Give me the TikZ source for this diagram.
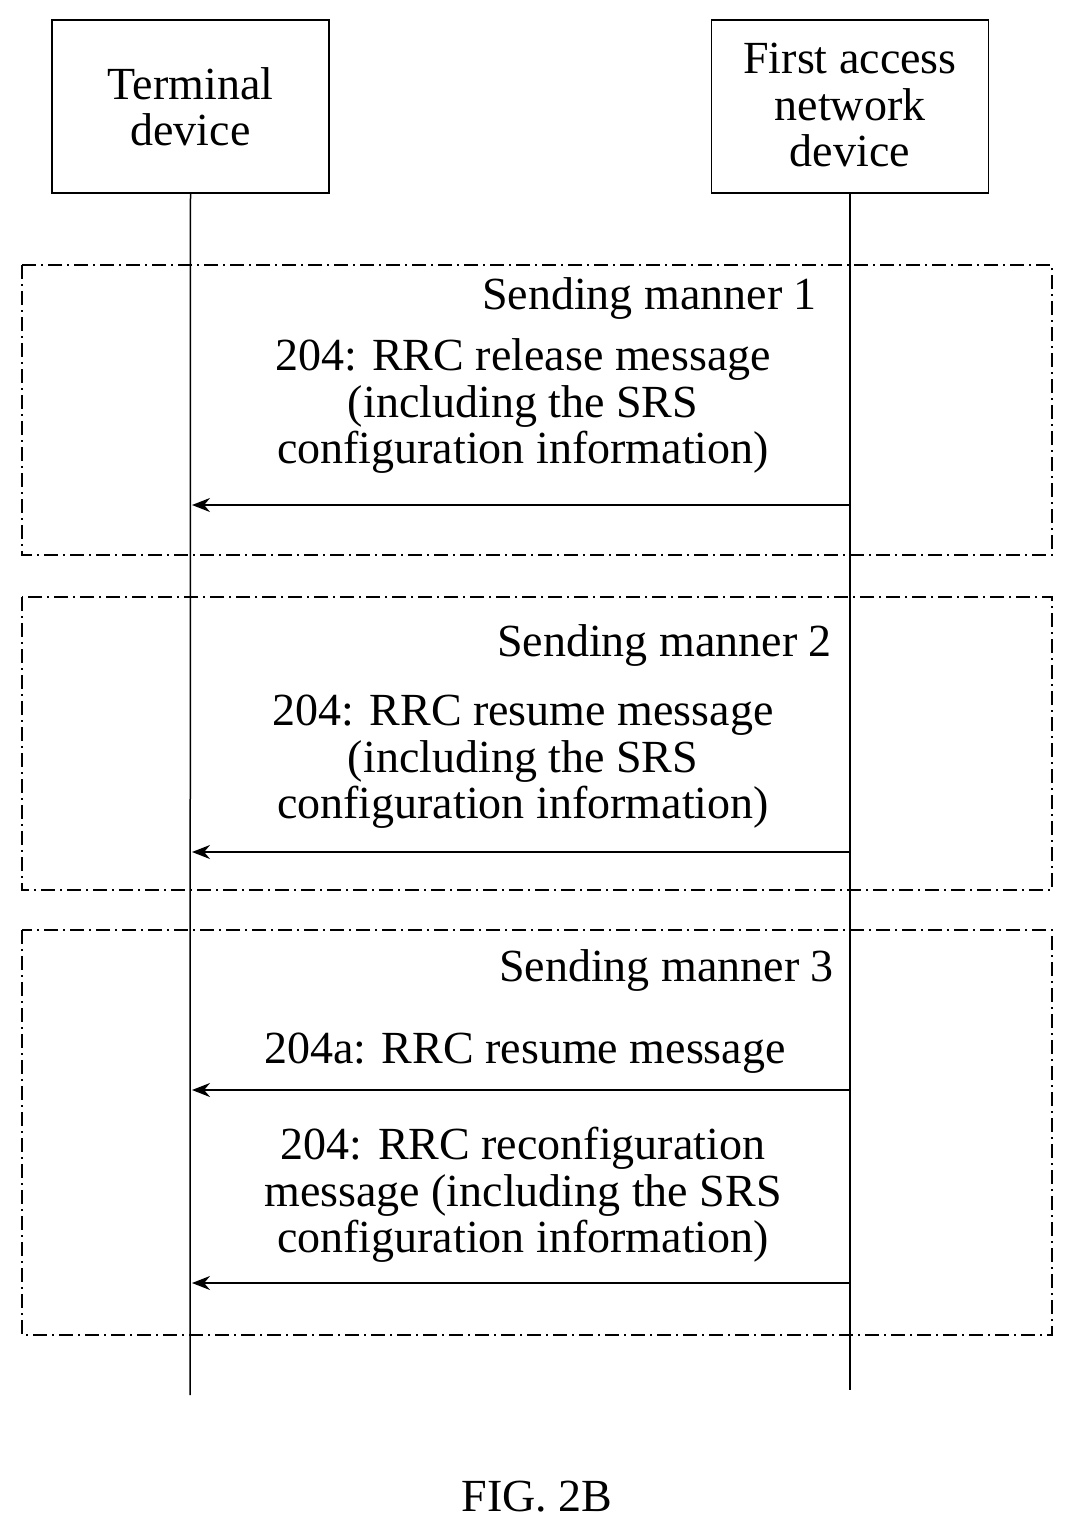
\documentclass[tikz,border=0pt]{standalone}
\usepackage{fontspec}
\setmainfont{Liberation Serif}
\usetikzlibrary{arrows.meta}
\begin{document}
\begin{tikzpicture}[x=1pt,y=-1pt,
  txt/.style={font=\fontsize{46}{46.5}\selectfont, align=center, inner sep=0pt},
  ent/.style={draw, line width=1.5pt, minimum width=277pt, minimum height=173pt, inner sep=0pt},
  grp/.style={draw, line width=1.5pt, dash pattern=on 14pt off 5pt on 2pt off 5pt},
  life/.style={line width=1.5pt},
  msg/.style={line width=1.5pt, -{Stealth[length=18pt,width=14pt]}}]
\useasboundingbox (0,0) rectangle (1074,1532);
\node[ent] (t) at (190.5,106.5) {};
\node[txt] (tt) at (190.5,107) {Terminal\\device};
\node[ent] (f) at (850,106.5) {};
\node[txt] (ft) at (850,105) {First access\\network\\device};
\coordinate (tend) at (190,1395);
\coordinate (fend) at (850,1390);
\draw[life] (t.south) -- (tend);
\draw[life] (f.south) -- (fend);
\draw[grp] (22,265) rectangle (1052,555);
\draw[grp] (22,597) rectangle (1052,890);
\draw[grp] (22,930) rectangle (1052,1335);
\node[txt, anchor=east] (s1) at (817,298) {Sending manner 1};
\node[txt] (m1) at (523,406) {204: RRC release message\\(including the SRS\\configuration information)};
\coordinate (a1f) at (850,505); \coordinate (a1t) at (192,505);
\draw[msg] (a1f) -- (a1t);
\node[txt, anchor=east] (s2) at (832,645) {Sending manner 2};
\node[txt] (m2) at (523,762) {204: RRC resume message\\(including the SRS\\configuration information)};
\coordinate (a2f) at (850,852); \coordinate (a2t) at (192,852);
\draw[msg] (a2f) -- (a2t);
\node[txt, anchor=east] (s3) at (834,970) {Sending manner 3};
\node[txt] (m3a) at (525,1053) {204a: RRC resume message};
\coordinate (a3f) at (850,1090); \coordinate (a3t) at (192,1090);
\draw[msg] (a3f) -- (a3t);
\node[txt] (m3) at (523,1195) {204: RRC reconfiguration\\message (including the SRS\\configuration information)};
\coordinate (a4f) at (850,1283); \coordinate (a4t) at (192,1283);
\draw[msg] (a4f) -- (a4t);
\node[txt] (fig) at (537,1497) {FIG. 2B};
\end{tikzpicture}
\end{document}
